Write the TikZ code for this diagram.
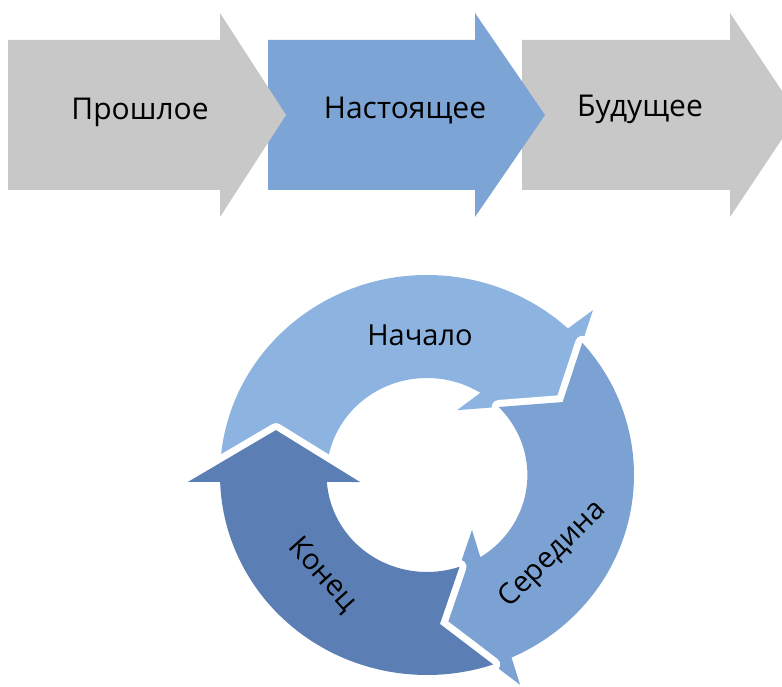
\documentclass[tikz,border=0pt]{standalone}
\usepackage{fontspec}
\setmainfont{Open Sans}
\usepackage{tikz}
\usetikzlibrary{calc}
\definecolor{grayarr}{RGB}{200,200,200}
\definecolor{bluearr}{RGB}{124,165,213}
\definecolor{startcol}{RGB}{141,180,224}
\definecolor{midcol}{RGB}{123,162,211}
\definecolor{endcol}{RGB}{91,127,180}

\begin{document}
\begin{tikzpicture}[x=1pt, y=1pt,
		lbl/.style={font=\fontsize{30}{36}\selectfont, inner sep=0pt},
		cyc/.style={font=\fontsize{29}{34}\selectfont, inner sep=0pt},
		ring/.style={preaction={draw=white, line width=14pt, line join=round}}]
	\useasboundingbox (0,0) rectangle (782,687);
	\clip (0,0) rectangle (782,687);
	% time line
	\foreach \a/\b/\c/\col in {522/730/798/grayarr, 268/475/545/bluearr, 8/220/286/grayarr}
		\fill[\col] (\a,497) -- (\b,497) -- (\b,470) -- (\c,572) -- (\b,674) -- (\b,647) -- (\a,647) -- cycle;
	\node[lbl] (past) at (140,575) {Прошлое};
	\node[lbl] (now) at (405,576) {Настоящее};
	\node[lbl] (future) at (640,578) {Будущее};
	% cycle
	\begin{scope}[shift={(427,212)}, xscale=1.035]
		\fill[startcol, ring] (176.5:200) arc[start angle=176.5, end angle=47.1, radius=200pt]
			-- (45.8:230) -- (29.1:150) -- (65.9:71) -- (57.9:97)
			arc[start angle=57.9, end angle=172.3, radius=97pt] -- (162.9:152.7) -- cycle;
		\fill[midcol, ring] (41.4:200) arc[start angle=41.4, end angle=-65.9, radius=200pt]
			-- (-66.8:228.4) -- (-85.2:149.5) -- (-51.7:70.1) -- (-57.9:97)
			arc[start angle=-57.9, end angle=44.5, radius=97pt] -- (29.1:150) -- cycle;
		\fill[endcol, ring] (-71.35:200) arc[start angle=-71.35, end angle=-178, radius=200pt]
			-- (-178.3:231) -- (-197.1:152.7) -- (-173.8:65.1) -- (-175.9:97)
			arc[start angle=-175.9, end angle=-71.1, radius=97pt] -- (-85.2:149.5) -- cycle;
		\node[cyc] (begin) at (92.8:140) {Начало};
		\node[cyc, rotate=45] (middle) at (-33.3:146) {Середина};
		\node[cyc, rotate=-48] (end) at (224.6:142) {Конец};
	\end{scope}
\end{tikzpicture}
\end{document}
